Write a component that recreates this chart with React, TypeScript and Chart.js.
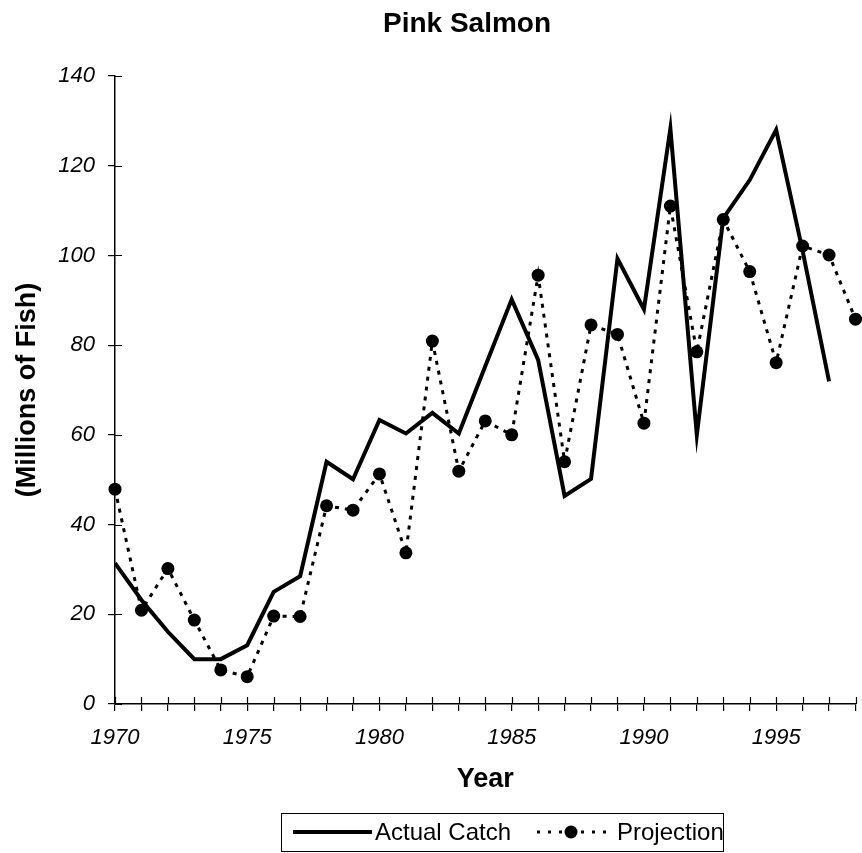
import React, { useEffect, useRef } from 'react';
import { Chart, registerables } from 'chart.js';

Chart.register(...registerables);

const chartTitle = 'Pink Salmon';
const xTitle = 'Year';
const yTitle = '(Millions of Fish)';

const years = [
  1970, 1971, 1972, 1973, 1974, 1975, 1976, 1977, 1978, 1979,
  1980, 1981, 1982, 1983, 1984, 1985, 1986, 1987, 1988, 1989,
  1990, 1991, 1992, 1993, 1994, 1995, 1996, 1997, 1998,
];

// Actual catch, 1970-1997
const actualCatch = [
  31.4, 23.2, 16.1, 10.0, 10.0, 13.1, 25.0, 28.5, 54.0, 50.1,
  63.3, 60.3, 64.9, 60.3, 75.3, 90.2, 76.7, 46.4, 50.2, 99.3,
  88.0, 128.3, 60.0, 108.3, 116.8, 128.0, 101.0, 71.9,
];

// Projection, 1970-1998
const projection = [
  47.9, 20.9, 30.2, 18.7, 7.6, 6.1, 19.6, 19.5, 44.2, 43.2,
  51.3, 33.7, 80.9, 51.9, 63.1, 60.0, 95.6, 54.0, 84.5, 82.4,
  62.6, 111.0, 78.5, 108.0, 96.4, 76.1, 102.1, 100.1, 85.8,
];

const yMin = 0;
const yMax = 140;
const yStep = 20;
const xMin = 1970;
const xMax = 1998;
const xLabelEvery = 5;

const FONT = "'Liberation Sans', Arial, Helvetica, sans-serif";

export default function App() {
  const ref = useRef<HTMLCanvasElement>(null);

  useEffect(() => {
    const canvas = ref.current;
    if (!canvas) return;

    const decor = {
      id: 'decor',
      afterDraw(chart: any) {
        const ctx = chart.ctx;
        const xs = chart.scales.x;
        const ys = chart.scales.y;
        const area = chart.chartArea;
        ctx.save();
        ctx.strokeStyle = '#000';
        ctx.fillStyle = '#000';
        // inner halves of the crossing tick marks
        ctx.lineWidth = 1.2;
        ctx.beginPath();
        xs.ticks.forEach((t: any) => {
          const px = Math.round(xs.getPixelForValue(t.value)) + 0.5;
          ctx.moveTo(px, area.bottom);
          ctx.lineTo(px, area.bottom - 7);
        });
        ys.ticks.forEach((t: any) => {
          const py = Math.round(ys.getPixelForValue(t.value)) + 0.5;
          ctx.moveTo(area.left, py);
          ctx.lineTo(area.left + 7, py);
        });
        ctx.stroke();

        // title
        ctx.font = `bold 28px ${FONT}`;
        ctx.textAlign = 'center';
        ctx.textBaseline = 'middle';
        ctx.fillText(chartTitle, 467, 24);

        // legend
        const ds = chart.data.datasets;
        ctx.lineWidth = 1;
        ctx.strokeRect(281.5, 813.5, 442, 38);
        ctx.lineWidth = 4;
        ctx.beginPath();
        ctx.moveTo(293, 832);
        ctx.lineTo(372, 832);
        ctx.stroke();
        ctx.font = `24px ${FONT}`;
        ctx.textAlign = 'left';
        ctx.fillText(ds[0].label, 375, 833);
        ctx.lineWidth = 3;
        ctx.setLineDash([3, 8]);
        ctx.beginPath();
        ctx.moveTo(537, 832);
        ctx.lineTo(613, 832);
        ctx.stroke();
        ctx.setLineDash([]);
        ctx.beginPath();
        ctx.arc(571, 832, 6.5, 0, Math.PI * 2);
        ctx.fill();
        ctx.fillText(ds[1].label, 617, 833);
        ctx.restore();
      },
    };

    const chart = new Chart(canvas, {
      type: 'line',
      data: {
        datasets: [
          {
            label: 'Actual Catch',
            data: actualCatch.map((v, i) => ({ x: years[i], y: v })),
            borderColor: '#000',
            backgroundColor: '#000',
            borderWidth: 4,
            pointRadius: 0,
            fill: false,
            tension: 0,
            borderJoinStyle: 'miter',
          },
          {
            label: 'Projection',
            data: projection.map((v, i) => ({ x: years[i], y: v })),
            borderColor: '#000',
            backgroundColor: '#000',
            borderWidth: 3,
            borderDash: [4, 6],
            pointRadius: 6.5,
            pointBackgroundColor: '#000',
            pointBorderColor: '#000',
            pointBorderWidth: 0,
            fill: false,
            tension: 0,
            clip: false,
          },
        ],
      },
      options: {
        responsive: false,
        animation: false,
        layout: { padding: { top: 76, right: 0, bottom: 53, left: 0 } },
        plugins: {
          legend: { display: false },
          title: { display: false },
          tooltip: { enabled: false },
        },
        scales: {
          x: {
            type: 'linear',
            min: xMin,
            max: xMax,
            afterFit(s: any) {
              s.height = 96;
              s.paddingRight = 0;
              s.paddingLeft = 0;
            },
            ticks: {
              stepSize: 1,
              autoSkip: false,
              maxRotation: 0,
              padding: 14,
              color: '#000',
              font: { family: FONT, size: 22, style: 'italic' },
              callback: (v: any) => (Number(v) % xLabelEvery === 0 ? String(v) : ''),
            },
            grid: {
              drawOnChartArea: false,
              drawTicks: true,
              tickLength: 7,
              color: '#000',
              lineWidth: 1.2,
            },
            border: { display: true, color: '#000', width: 1.5 },
            title: {
              display: true,
              text: xTitle,
              color: '#000',
              font: { family: FONT, size: 27, weight: 'bold' },
              padding: { top: 0, bottom: 4 },
            },
          },
          y: {
            type: 'linear',
            min: yMin,
            max: yMax,
            afterFit(s: any) {
              s.width = 115;
            },
            ticks: {
              stepSize: yStep,
              padding: 13,
              color: '#000',
              font: { family: FONT, size: 22, style: 'italic' },
            },
            grid: {
              drawOnChartArea: false,
              drawTicks: true,
              tickLength: 7,
              color: '#000',
              lineWidth: 1.2,
            },
            border: { display: true, color: '#000', width: 1.5 },
            title: {
              display: true,
              text: yTitle,
              color: '#000',
              font: { family: FONT, size: 27, weight: 'bold' },
              padding: { top: 11, bottom: 0 },
            },
          },
        },
      },
      plugins: [decor],
    } as any);

    return () => chart.destroy();
  }, []);

  return (
    <div style={{ position: 'absolute', left: 0, top: 0, width: 862, height: 853, background: '#fff' }}>
      <canvas ref={ref} width={862} height={853} style={{ display: 'block' }} />
    </div>
  );
}
